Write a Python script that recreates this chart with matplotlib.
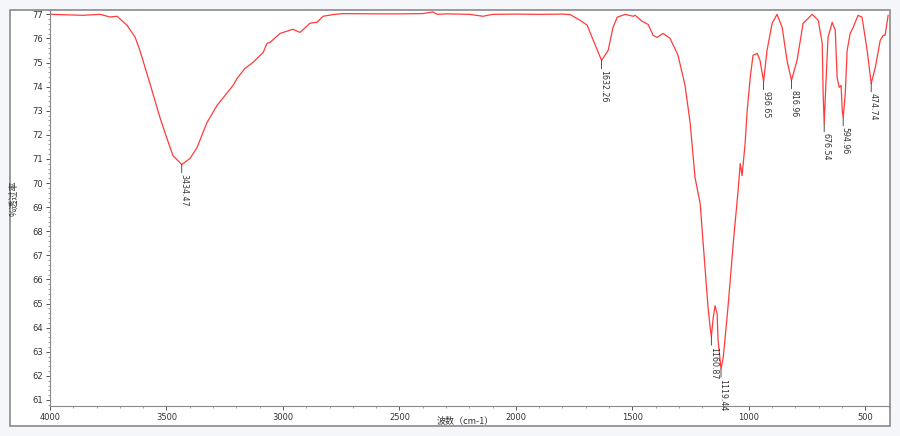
import matplotlib
matplotlib.use("Agg")
import matplotlib.pyplot as plt
from matplotlib.ticker import MultipleLocator
from matplotlib.patches import Rectangle

plt.rcParams['font.family'] = ['Noto Sans CJK SC', 'DejaVu Sans']

wavenumber = [4000, 3858, 3785, 3742, 3712, 3669, 3635, 3614, 3571, 3528, 3498, 3472,
              3434.47, 3399, 3369, 3326, 3283, 3214, 3197, 3163, 3128, 3120, 3085, 3068,
              3055, 3012, 2957, 2927, 2884, 2854, 2828, 2785, 2742, 2600, 2497, 2400,
              2356, 2338, 2300, 2200, 2141, 2100, 2000, 1900, 1800, 1767, 1724, 1694,
              1669, 1632.26, 1604, 1583, 1565, 1531, 1497, 1488, 1458, 1432, 1411, 1394,
              1368, 1338, 1304, 1274, 1252, 1231, 1209, 1196, 1175, 1166, 1160.87, 1153,
              1145, 1136, 1132, 1119.44, 1110, 1092, 1080, 1067, 1045, 1037, 1029, 1016,
              1007, 994, 982, 964, 952, 936.65, 922, 900, 879, 857, 836, 816.96, 793,
              767, 728, 702, 685, 681, 676.54, 668, 660, 642, 629, 621, 612, 604, 599,
              594.96, 586, 578, 565, 552, 531, 514, 492, 474.74, 457, 436, 423, 415, 402]
transmittance = [77.00, 76.96, 77.00, 76.89, 76.92, 76.54, 76.06, 75.50, 74.13, 72.72, 71.85, 71.14,
                 70.77, 71.02, 71.47, 72.51, 73.22, 74.05, 74.34, 74.76, 75.01, 75.09, 75.42, 75.80,
                 75.84, 76.21, 76.38, 76.25, 76.63, 76.67, 76.92, 76.99, 77.03, 77.02, 77.02, 77.03,
                 77.10, 77.00, 77.02, 77.00, 76.92, 77.00, 77.01, 77.00, 77.01, 76.99, 76.75, 76.55,
                 75.95, 75.09, 75.50, 76.46, 76.88, 77.00, 76.92, 76.96, 76.71, 76.58, 76.13, 76.04,
                 76.21, 76.00, 75.30, 74.05, 72.51, 70.23, 69.15, 67.49, 64.83, 64.00, 63.62, 64.41,
                 64.91, 64.58, 63.46, 62.29, 62.75, 64.58, 65.95, 67.49, 69.81, 70.81, 70.31, 71.64,
                 73.01, 74.38, 75.30, 75.38, 75.09, 74.22, 75.50, 76.63, 77.00, 76.46, 75.09, 74.26, 75.09,
                 76.63, 77.00, 76.75, 75.80, 73.72, 72.47, 74.38, 76.04, 76.67, 76.34, 74.38, 73.97, 74.05, 73.01,
                 72.72, 73.72, 75.50, 76.21, 76.46, 76.96, 76.88, 75.50, 74.13, 74.80, 75.92, 76.13, 76.13, 76.96]

peak_positions = [3434.47, 1632.26, 1160.87, 1119.44, 936.65, 816.96, 676.54, 594.96, 474.74]
peak_values = [70.77, 75.09, 63.62, 62.29, 74.22, 74.26, 72.47, 72.72, 74.13]
peak_labels = ["3434.47", "1632.26", "1160.87", "1119.44", "936.65", "816.96", "676.54", "594.96", "474.74"]

x_ticks = [4000, 3500, 3000, 2500, 2000, 1500, 1000, 500]
y_ticks = list(range(61, 78))

W, H = 900, 436
fig = plt.figure(figsize=(9, 4.36), dpi=100, facecolor='#f4f6fa')
# white panel with gray frame
fig.patches.append(Rectangle((10 / W, 1 - 426 / H), 880 / W, 416 / H, transform=fig.transFigure,
                             facecolor='white', edgecolor='#8a8a8a', linewidth=1.2, zorder=-10))

ax = fig.add_axes([50 / W, 1 - 406 / H, 840 / W, 396 / H])
ax.set_zorder(5)
ax.patch.set_alpha(0)
ax.plot(wavenumber, transmittance, color='#ff3b3b', linewidth=0.9)

ax.set_xlim(4000, 394)
ax.set_ylim(60.75, 77.18)

ax.set_xticks(x_ticks)
ax.set_xticklabels([str(t) for t in x_ticks])
ax.xaxis.set_minor_locator(MultipleLocator(100))
ax.set_yticks(y_ticks)
ax.set_yticklabels([str(t) for t in y_ticks])
ax.yaxis.set_minor_locator(MultipleLocator(0.2))

ax.tick_params(axis='both', which='major', direction='out', length=3, width=0.7,
               labelsize=6, colors='#555555', labelcolor='#333333', pad=2)
ax.tick_params(axis='both', which='minor', direction='out', length=1.5, width=0.5, colors='#777777')
for lab in ax.get_xticklabels() + ax.get_yticklabels():
    lab.set_family('DejaVu Sans')

for s in ['top', 'right']:
    ax.spines[s].set_visible(False)
for s in ['left', 'bottom']:
    ax.spines[s].set_color('#888888')
    ax.spines[s].set_linewidth(0.8)

for px, pv, lab in zip(peak_positions, peak_values, peak_labels):
    ax.annotate('', xy=(px, pv), xytext=(0, -6), textcoords='offset points',
                arrowprops=dict(arrowstyle='-', color='#333333', lw=0.6, shrinkA=0, shrinkB=0))
    ax.annotate(lab, xy=(px, pv), xytext=(1.5, -7), textcoords='offset points',
                rotation=-90, ha='center', va='top', fontsize=5.7, color='#333333',
                family='DejaVu Sans')

fig.text(465 / W, 1 - 421 / H, '波数（cm-1）', ha='center', va='center', fontsize=6.5, color='#333333')
fig.text(14 / W, 1 - 198 / H, '%透过率', ha='center', va='center', rotation=90, fontsize=6.5, color='#333333')

fig.savefig('out.png', dpi=100, facecolor=fig.get_facecolor())
